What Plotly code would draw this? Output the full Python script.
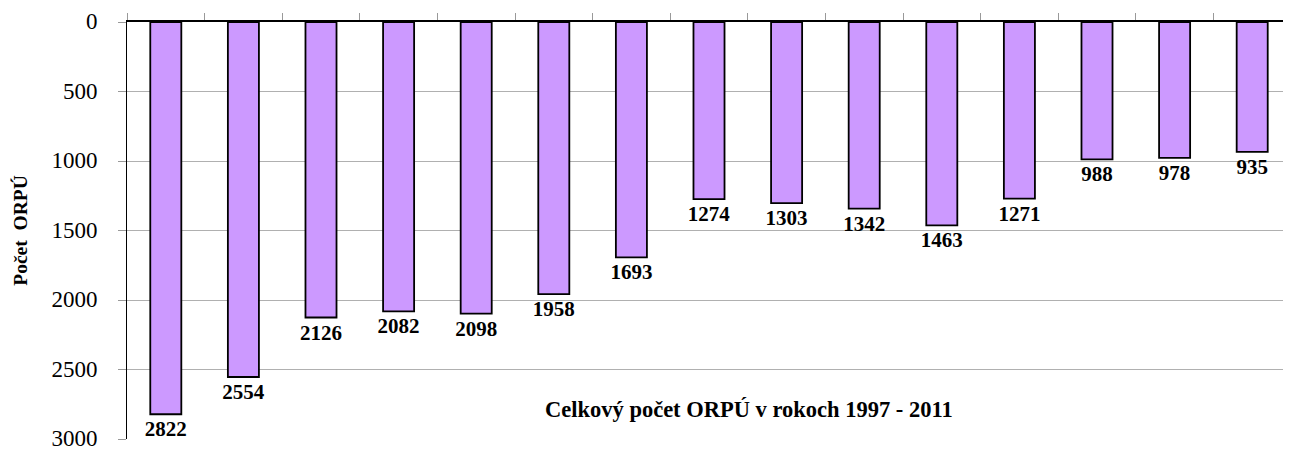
import plotly.graph_objects as go

years = [str(y) for y in range(1997, 2012)]
counts = [2822, 2554, 2126, 2082, 2098, 1958, 1693, 1274, 1303, 1342, 1463, 1271, 988, 978, 935]
y_ticks = [0, 500, 1000, 1500, 2000, 2500, 3000]

fig = go.Figure()
fig.add_trace(go.Bar(
    x=years, y=counts,
    marker=dict(color="#CC99FF", line=dict(color="black", width=1.8)),
    width=0.4,
    text=[str(c) for c in counts],
    textposition="outside",
    constraintext="none",
    textfont=dict(family="Liberation Serif", size=21, color="black", weight="bold"),
    cliponaxis=False,
))

fig.update_layout(
    width=1283, height=442,
    margin=dict(l=119, r=0, t=14, b=11),
    plot_bgcolor="white", paper_bgcolor="white",
    showlegend=False,
    font=dict(family="Liberation Serif", color="black"),
    xaxis=dict(
        side="top", showticklabels=False, showline=True, linecolor="black", linewidth=1.5,
        ticks="outside", tickson="boundaries", ticklen=7, tickcolor="#999999",
        showgrid=False, automargin=False,
    ),
    yaxis=dict(
        range=[3000, 0], tickvals=y_ticks, showline=True, linecolor="black", linewidth=1,
        ticks="outside", ticklen=8, tickcolor="#999999",
        showgrid=True, gridcolor="#b0b0b0", gridwidth=1,
        tickfont=dict(family="Liberation Serif", size=23, color="black"),
        ticklabeloverflow="allow", ticklabelstandoff=16, ticklabelshift=1,
        title=dict(text="Počet  ORPÚ", font=dict(family="Liberation Serif", size=19.5, color="black", weight="bold"), standoff=18),
        zeroline=False, automargin=False,
    ),
    annotations=[dict(
        text="Celkový počet ORPÚ v rokoch 1997 - 2011",
        xref="paper", yref="paper", x=0.534, y=0.036, showarrow=False,
        font=dict(family="Liberation Serif", size=22.5, color="black", weight="bold"),
    )],
)

fig.write_html("out.html")
